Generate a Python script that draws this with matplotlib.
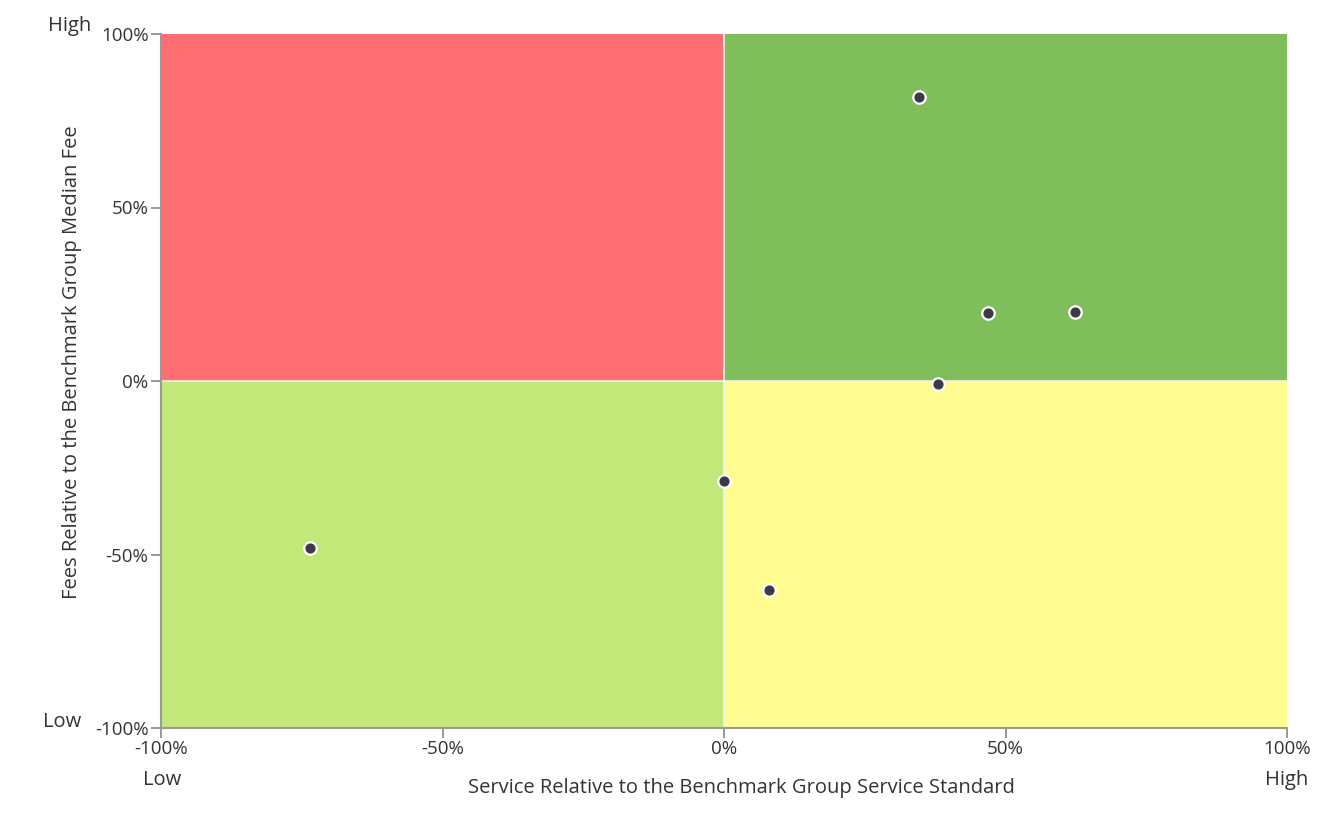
import matplotlib
matplotlib.use("Agg")
import matplotlib.pyplot as plt
from matplotlib.ticker import FuncFormatter

plt.rcParams['font.family'] = ['Open Sans', 'DejaVu Sans']

# Data (percent)
service = [34.6, 46.9, 62.3, 38.0, 0.0, 8.0, -73.5]
fees = [81.8, 19.6, 19.9, -0.9, -28.8, -60.2, -48.1]

quadrants = [  # (x0, x1, y0, y1, color)
    (-100, 0, 0, 100, '#FF6E73'),
    (0, 100, 0, 100, '#80BE5C'),
    (-100, 0, -100, 0, '#C2E87A'),
    (0, 100, -100, 0, '#FFFD91'),
]
ticks = [-100, -50, 0, 50, 100]

fig = plt.figure(figsize=(13.41, 8.32), dpi=100)
ax = fig.add_axes([161/1341, 1-728/832, (1287-161)/1341, (728-34)/832])

for x0, x1, y0, y1, c in quadrants:
    ax.fill_between([x0, x1], y0, y1, color=c, linewidth=0, zorder=1)
ax.axvline(0, color='#f2f2f2', lw=1.2, zorder=2)
ax.axhline(0, color='#f2f2f2', lw=1.2, zorder=2)

ax.scatter(service, fees, s=80, color='#3b3b47', edgecolor='white', linewidth=1.6, zorder=5)

ax.set_xlim(-100, 100)
ax.set_ylim(-100, 100)
ax.set_xticks(ticks)
ax.set_yticks(ticks)
fmt = FuncFormatter(lambda v, p: f"{int(v)}%")
ax.xaxis.set_major_formatter(fmt)
ax.yaxis.set_major_formatter(fmt)
ax.tick_params(axis='both', colors='#888888', labelcolor='#333333', labelsize=13.5, length=7, width=1.2, pad=2)
for s in ['top', 'right']:
    ax.spines[s].set_visible(False)
for s in ['left', 'bottom']:
    ax.spines[s].set_color('#999999')
    ax.spines[s].set_linewidth(1.5)

fs = 14.5
fig.text(72/1341, 1-362/832, 'Fees Relative to the Benchmark Group Median Fee', rotation=90,
         ha='center', va='center', fontsize=fs, color='#333333')
fig.text(741/1341, 1-788/832, 'Service Relative to the Benchmark Group Service Standard',
         ha='center', va='center', fontsize=fs, color='#333333')
fig.text(70/1341, 1-26/832, 'High', ha='center', va='center', fontsize=fs, color='#333333')
fig.text(62/1341, 1-722/832, 'Low', ha='center', va='center', fontsize=fs, color='#333333')
fig.text(162/1341, 1-780/832, 'Low', ha='center', va='center', fontsize=fs, color='#333333')
fig.text(1287/1341, 1-780/832, 'High', ha='center', va='center', fontsize=fs, color='#333333')

fig.savefig('out.png', dpi=100)
